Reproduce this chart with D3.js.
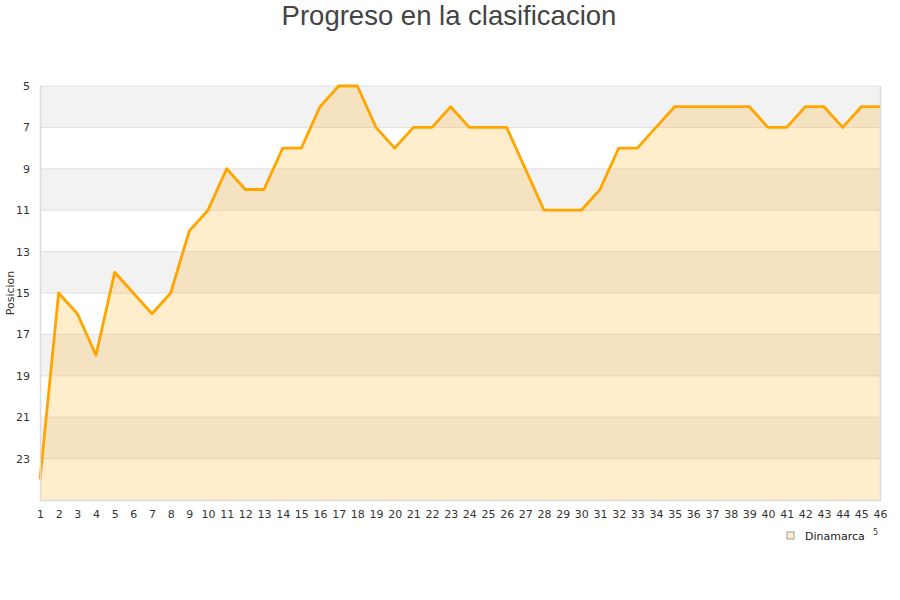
<!DOCTYPE html>
<html><head><meta charset="utf-8">
<script src="https://cdn.jsdelivr.net/npm/d3@7"></script>
<style>body{margin:0;background:#fff}svg{display:block}</style>
</head><body>
<script>
const rounds = d3.range(1, 47);
const positions = [24,15,16,18,14,15,16,15,12,11,9,10,10,8,8,6,5,5,7,8,7,7,6,7,7,7,9,11,11,11,10,8,8,7,6,6,6,6,6,7,7,6,6,7,6,6];
const yTicks = [5,7,9,11,13,15,17,19,21,23];
const seriesName = "Dinamarca";
const title = "Progreso en la clasificacion";
const yTitle = "Posicion";

const W = 900, H = 600;
const svg = d3.select("body").append("svg").attr("width", W).attr("height", H);
const x = d3.scaleLinear().domain([1, 46]).range([40, 880]);
const y = d3.scaleLinear().domain([5, 25]).range([86, 500]);

// bands
const bands = d3.range(5, 25, 2);
svg.append("g").selectAll("rect").data(bands).join("rect")
  .attr("x", x(1)).attr("width", x(46) - x(1))
  .attr("y", d => y(d)).attr("height", d => y(d + 2) - y(d))
  .attr("fill", (d, i) => i % 2 === 0 ? "#f2f2f2" : "#ffffff");
// grid
svg.append("g").selectAll("line").data(yTicks).join("line")
  .attr("x1", x(1)).attr("x2", x(46))
  .attr("y1", d => y(d)).attr("y2", d => y(d))
  .attr("stroke", "#e0e0e0").attr("stroke-width", 1);

const data = rounds.map((r, i) => ({r, p: positions[i]}));
svg.append("path").datum(data)
  .attr("d", d3.area().x(d => x(d.r)).y0(y(25)).y1(d => y(d.p)))
  .attr("fill", "#FFA500").attr("fill-opacity", 0.2);
svg.append("path").datum(data)
  .attr("d", d3.line().x(d => x(d.r)).y(d => y(d.p)))
  .attr("fill", "none").attr("stroke", "#FFA500").attr("stroke-width", 2.8)
  .attr("stroke-linejoin", "round");

// borders
svg.append("path").attr("d", `M${x(1)+0.5},${y(5)}V${y(25)+0.5}H${x(46)+0.5}V${y(5)}`)
  .attr("fill", "none").attr("stroke", "#dcdcdc").attr("stroke-width", 1.5);

// axes
const xa = svg.append("g").attr("transform", `translate(0,${y(25)})`)
  .call(d3.axisBottom(x).tickValues(rounds).tickFormat(d3.format("d")).tickSize(0).tickPadding(10));
xa.select(".domain").remove();
xa.selectAll("text").attr("font-family", "DejaVu Sans").attr("font-size", 11).attr("fill", "#333");
const ya = svg.append("g").attr("transform", `translate(${x(1)},0)`)
  .call(d3.axisLeft(y).tickValues(yTicks).tickFormat(d3.format("d")).tickSize(0).tickPadding(10));
ya.select(".domain").remove();
ya.selectAll("text").attr("font-family", "DejaVu Sans").attr("font-size", 11).attr("fill", "#333");

svg.append("text").attr("x", 449).attr("y", 25).attr("text-anchor", "middle")
  .attr("font-family", "Liberation Sans, Arial, sans-serif").attr("font-size", 27.5).attr("fill", "#444").text(title);
svg.append("text").attr("transform", "translate(14,293) rotate(-90)").attr("text-anchor", "middle")
  .attr("font-family", "DejaVu Sans").attr("font-size", 11).attr("fill", "#333").text(yTitle);

// legend
const lg = svg.append("g").attr("transform", "translate(787,532)");
lg.append("rect").attr("width", 7).attr("height", 7).attr("fill", "#FFEDCC").attr("stroke", "#888").attr("stroke-width", 0.8);
lg.append("text").attr("x", 18).attr("y", 8).attr("font-family", "DejaVu Sans").attr("font-size", 11).attr("fill", "#222").text(seriesName);
svg.append("text").attr("x", 873).attr("y", 535).attr("font-family", "DejaVu Sans").attr("font-size", 8).attr("fill", "#333").text("5");
</script>
</body></html>
